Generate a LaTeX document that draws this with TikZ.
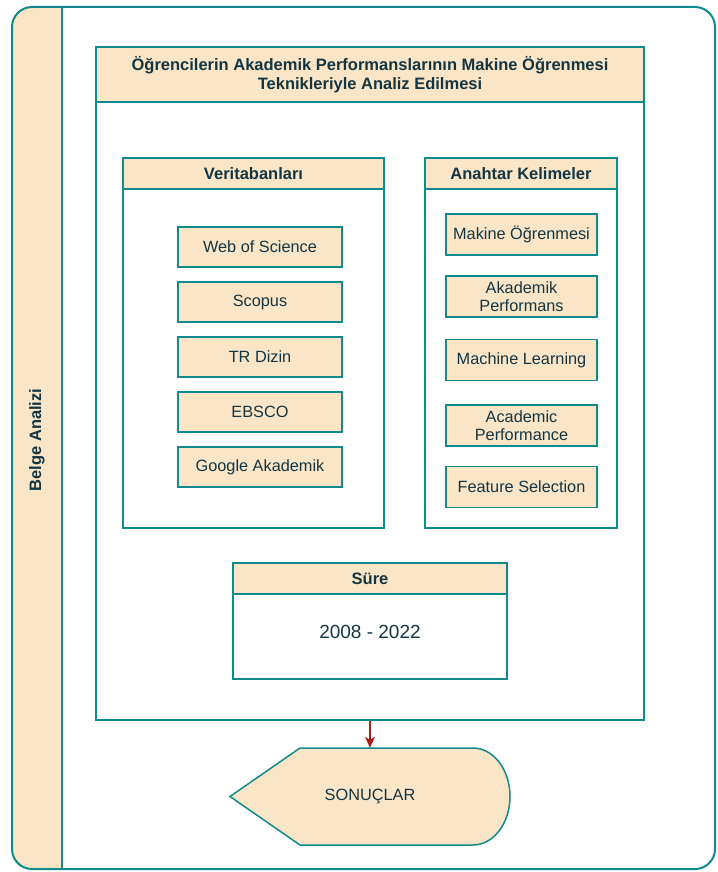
\documentclass[tikz,border=0pt]{standalone}
\usepackage{fontspec}
\setmainfont{Liberation Sans}
\usetikzlibrary{arrows.meta}
\definecolor{cream}{HTML}{FAE5C7}
\definecolor{tealline}{HTML}{0F8B8D}
\definecolor{inkblue}{HTML}{143642}
\definecolor{arrowred}{HTML}{A8201A}

\begin{document}
\begin{tikzpicture}[x=1pt,y=-1pt]
			\useasboundingbox (0,0) rectangle (717,872);
			% outer lane
			\begin{scope}
				\clip (12,7) rectangle (62,869);
				\fill[cream,rounded corners=20pt] (12,7) rectangle (715,869);
			\end{scope}
			\node[draw=tealline,line width=2pt,rounded corners=20pt,minimum width=703pt,minimum height=862pt] (lane) at (363.5,438) {};
			\draw[tealline,line width=2pt] (62,7) -- (62,869);
			\node[rotate=90,text=inkblue,font=\fontsize{16.5}{19}\selectfont\bfseries] (lanelabel) at (37,440) {Belge Analizi};

			\begin{scope}[every node/.style={draw=tealline,line width=2pt,fill=white}]
	    		\node[minimum width=548pt,minimum height=673pt] (main) at (370,383.5) {};
	    		\node[minimum width=261pt,minimum height=370pt] (vt) at (253.5,343) {};
	    		\node[minimum width=192pt,minimum height=370pt] (ak) at (521,343) {};
	    		\node[minimum width=274pt,minimum height=116pt] (sure) at (370,621) {};
			\end{scope}
			\begin{scope}[every node/.style={draw=tealline,line width=2pt,fill=cream,text=inkblue,align=center,font=\fontsize{16.5}{19}\selectfont\bfseries}]
	    		\node[minimum width=548pt,minimum height=55pt] (title) at (370,74.5) {Öğrencilerin Akademik Performanslarının Makine Öğrenmesi\\Teknikleriyle Analiz Edilmesi};
	    		\node[minimum width=261pt,minimum height=31pt] (vthead) at (253.5,173.5) {Veritabanları};
	    		\node[minimum width=192pt,minimum height=31pt] (akhead) at (521,173.5) {Anahtar Kelimeler};
	    		\node[minimum width=274pt,minimum height=31pt] (surehead) at (370,578.5) {Süre};
			\end{scope}

			\begin{scope}[every node/.style={draw=tealline,line width=1.5pt,fill=cream,text=inkblue,align=center,inner sep=1pt,font=\fontsize{16.3}{18}\selectfont,minimum width=164pt,minimum height=40pt}]
	    		\node (wos) at (260,247) {Web of Science};
	    		\node (scopus) at (260,302) {Scopus};
	    		\node (trdizin) at (260,357) {TR Dizin};
	    		\node (ebsco) at (260,412) {EBSCO};
	    		\node (google) at (260,467) {Google Akademik};
			\end{scope}
			\begin{scope}[every node/.style={draw=tealline,line width=1.5pt,fill=cream,text=inkblue,align=center,inner sep=1pt,font=\fontsize{16.3}{18}\selectfont,minimum width=151pt,minimum height=41pt}]
	    		\node (makine) at (521.5,234.5) {Makine Öğrenmesi};
	    		\node (akperf) at (521.5,296.5) {Akademik\\Performans};
	    		\node (ml) at (521.5,360) {Machine Learning};
	    		\node (acperf) at (521.5,425.5) {Academic\\Performance};
	    		\node (feature) at (521.5,487) {Feature Selection};
			\end{scope}
			\node[text=inkblue,font=\fontsize{19}{22}\selectfont] (years) at (370,632) {2008 - 2022};

			% display shape
			\draw[tealline,fill=cream,line width=1.5pt] (230,796.5) -- (300,748) -- (473,748)
				.. controls (493.4,748) and (510,769.7) .. (510,796.5)
				.. controls (510,823.3) and (493.4,845) .. (473,845) -- (300,845) -- cycle;
			\node[minimum width=280pt,minimum height=97pt,inner sep=0pt,text=inkblue,font=\fontsize{16.3}{19}\selectfont] (sonuc) at (370,796.5) {SONUÇLAR};

			\draw [arrowred,line width=1.2pt,-{Stealth[length=11pt,width=10pt,inset=3pt]}] (main.south) -- (sonuc.north);
		\end{tikzpicture}
\end{document}
